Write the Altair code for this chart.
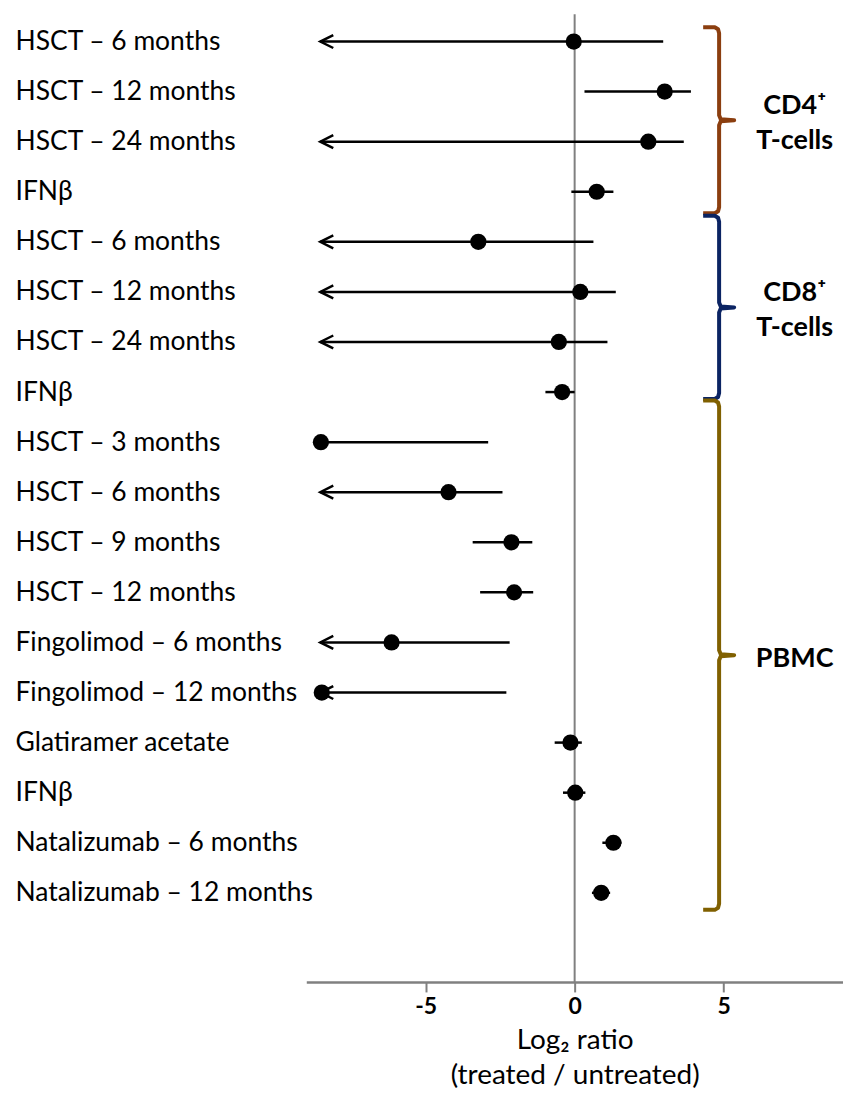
import json
import altair as alt
import pandas as pd

# ---- data ----
labels = ["HSCT – 6 months", "HSCT – 12 months", "HSCT – 24 months", "IFNβ",
          "HSCT – 6 months", "HSCT – 12 months", "HSCT – 24 months", "IFNβ",
          "HSCT – 3 months", "HSCT – 6 months", "HSCT – 9 months", "HSCT – 12 months",
          "Fingolimod – 6 months", "Fingolimod – 12 months", "Glatiramer acetate", "IFNβ",
          "Natalizumab – 6 months", "Natalizumab – 12 months"]
estimate = [-0.03, 3.02, 2.47, 0.74, -3.23, 0.19, -0.53, -0.42,
            -8.51, -4.23, -2.12, -2.03, -6.14, -8.48, -0.14, 0.02, 1.30, 0.89]
lower = [-8.53, 0.33, -8.53, -0.11, -8.53, -8.53, -8.53, -0.98,
         -8.51, -8.53, -3.42, -3.17, -8.53, -8.53, -0.67, -0.39, 0.93, 0.58]
upper = [2.97, 3.90, 3.66, 1.30, 0.63, 1.38, 1.10, 0.00,
         -2.90, -2.42, -1.42, -1.39, -2.18, -2.29, 0.24, 0.36, 1.57, 1.19]
truncated = [True, False, True, False, True, True, True, False,
             False, True, False, False, True, True, False, False, False, False]

groups = ["CD4⁺\nT-cells", "CD8⁺\nT-cells", "PBMC"]
group_colors = ["#8B3E0F", "#0B2463", "#806000"]
group_top = [-0.285, 3.48, 7.17]      # brace extent, in row units
group_bottom = [3.43, 7.14, 17.34]

x_ticks = [-5, 0, 5]

FONT = "Lato"

df = pd.DataFrame({"row": list(range(len(labels))), "label": labels,
                   "est": estimate, "lo": lower, "hi": upper, "arrow": truncated})

# brace polylines built from group extents
BX, HOOK, TIP = 4.845, 4.31, 5.35
brace_rows = []
for g, (name, top, bot) in enumerate(zip(groups, group_top, group_bottom)):
    mid = (top + bot) / 2
    pts = [(HOOK, top), (4.70, top), (4.81, top + 0.04), (BX, top + 0.12),
           (BX, mid - 0.10), (4.90, mid - 0.02), (TIP, mid), (4.90, mid + 0.02),
           (BX, mid + 0.10), (BX, bot - 0.12), (4.81, bot - 0.04), (4.70, bot), (HOOK, bot)]
    for i, (px, py) in enumerate(pts):
        brace_rows.append({"group": name, "o": i, "bx": px, "by": py})
brace_df = pd.DataFrame(brace_rows)
glabel_df = pd.DataFrame({
    "group": groups,
    "ty": [(t + b) / 2 + 0.07 - g.count("\n") * 0.35
           for g, t, b in zip(groups, group_top, group_bottom)],
    "gx": [7.38] * len(groups)})

xscale = alt.Scale(domain=[-9, 9], nice=False, zero=False)
yscale = alt.Scale(domain=[-0.544, 18.78], reverse=True, nice=False, zero=False)

label_expr = json.dumps(labels, ensure_ascii=False) + "[datum.value]"

yaxis = alt.Axis(values=list(range(len(labels))), labelExpr=label_expr,
                 labelAlign="left", labelBaseline="middle", labelPadding=292,
                 ticks=False, tickSize=0, domain=False, grid=False, title=None,
                 labelFont=FONT, labelFontSize=26.5, labelColor="black",
                 labelOverlap=False, labelBound=False, labelLimit=400)
xaxis = alt.Axis(values=x_ticks, labelExpr="'' + datum.value",
                 grid=False, tickSize=10, tickColor="#808080",
                 tickWidth=2, domainColor="#808080", domainWidth=2.5,
                 labelFont=FONT, labelFontSize=23, labelFontWeight="bold",
                 labelColor="black", labelPadding=4,
                 title=["Log₂ ratio", "(treated / untreated)"],
                 titleFont=FONT, titleFontSize=28, titleFontWeight="normal",
                 titleColor="black", titlePadding=8, titleLineHeight=35)

base = alt.Chart(df)

zero = alt.Chart(pd.DataFrame({"z": [0]})).mark_rule(
    color="#808080", strokeWidth=2).encode(x=alt.X("z:Q", scale=xscale, axis=xaxis))

bars = base.mark_rule(color="black", strokeWidth=2.5).encode(
    x=alt.X("lo:Q", scale=xscale, axis=xaxis), x2="hi:Q",
    y=alt.Y("row:Q", scale=yscale, axis=yaxis))

arrows = base.transform_filter("datum.arrow").mark_point(
    shape="M2,-1L0,0L2,1", size=169, filled=False, stroke="black",
    strokeWidth=2.5, opacity=1).encode(
    x=alt.X("lo:Q", scale=xscale), y=alt.Y("row:Q", scale=yscale))

points = base.mark_circle(size=265, color="black", opacity=1).encode(
    x=alt.X("est:Q", scale=xscale), y=alt.Y("row:Q", scale=yscale))

braces = alt.Chart(brace_df).mark_line(strokeWidth=4, strokeJoin="round").encode(
    x=alt.X("bx:Q", scale=xscale), y=alt.Y("by:Q", scale=yscale),
    detail="group:N", order="o:Q",
    color=alt.Color("group:N", scale=alt.Scale(domain=groups, range=group_colors),
                    legend=None))

glabels = alt.Chart(glabel_df).mark_text(
    font=FONT, fontSize=27, fontWeight="bold", color="black",
    lineBreak="\n", lineHeight=35, align="center", baseline="middle").encode(
    x=alt.X("gx:Q", scale=xscale), y=alt.Y("ty:Q", scale=yscale), text="group:N")

chart = alt.layer(zero, bars, arrows, points, braces, glabels).properties(
    width=538, height=970, background="white",
    padding={"left": 7, "top": 4, "right": 0, "bottom": 0},
).configure_view(strokeWidth=0)

chart.save("out.html", embed_options={"renderer": "svg", "actions": False})
